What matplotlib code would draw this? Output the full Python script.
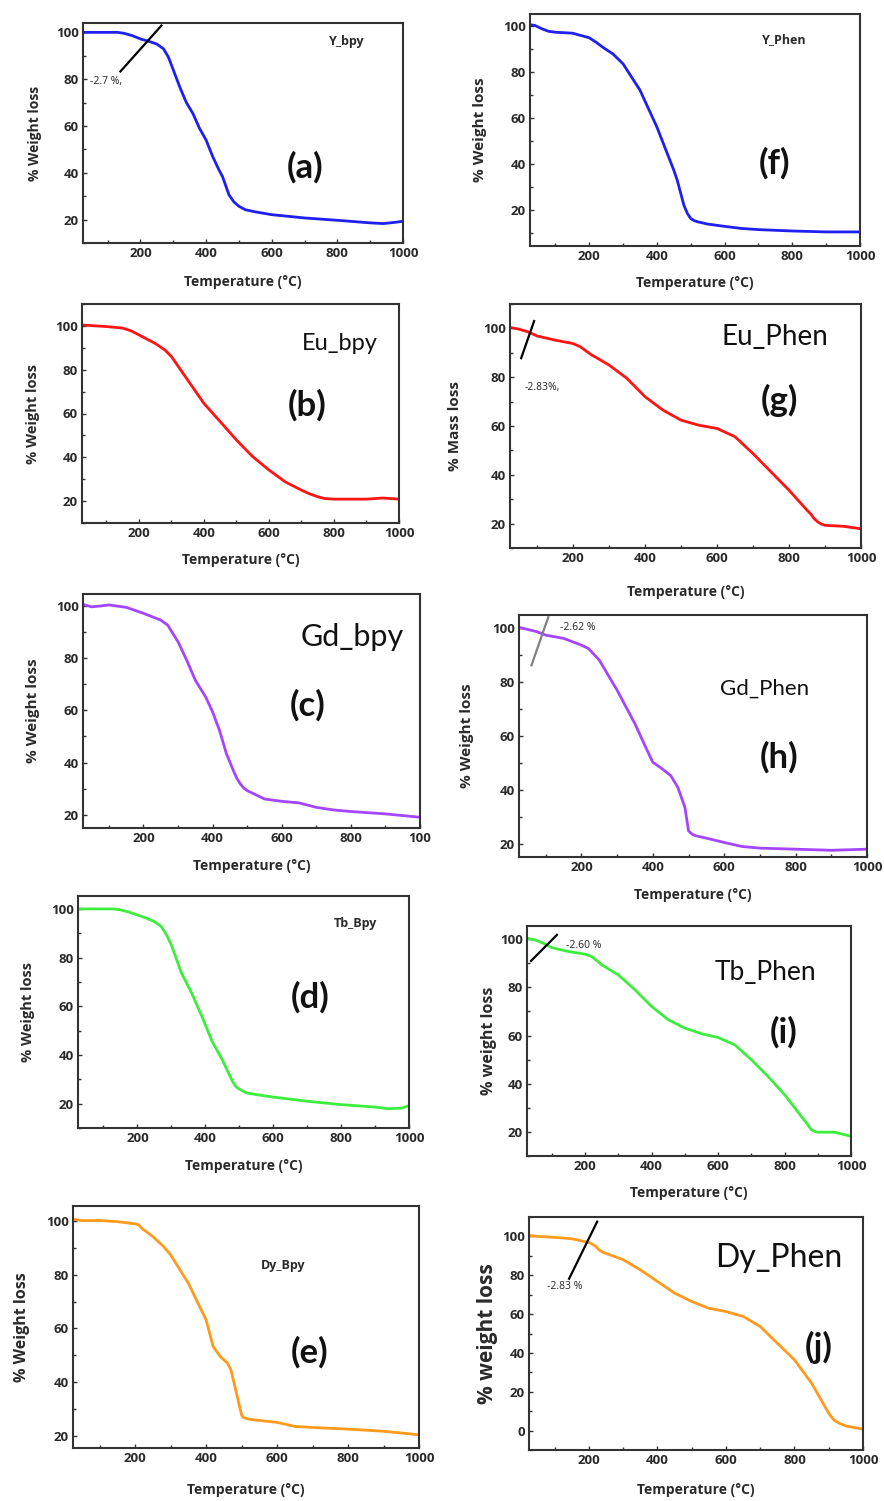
import numpy as np
import matplotlib
matplotlib.use('Agg')
import matplotlib.pyplot as plt
from matplotlib.ticker import MultipleLocator, FixedLocator, FixedFormatter

# ---- data (temperature in C, weight in %) ----
t_y_bpy = [25, 130, 150, 175, 200, 225, 250, 270, 285, 300, 320, 340, 360, 380, 400, 420, 440, 450, 470, 485, 500, 520, 550, 600, 700, 800, 900, 940, 980, 1000]
w_y_bpy = [100, 100, 99.6, 98.6, 97.2, 96.2, 95, 93, 89.5, 84, 76.6, 70, 65.3, 59, 54, 47, 41, 38.4, 30.5, 27.5, 25.7, 24.2, 23.3, 22.1, 20.7, 19.7, 18.6, 18.3, 18.9, 19.3]

t_y_phen = [25, 40, 60, 80, 100, 150, 200, 220, 240, 270, 300, 350, 400, 450, 460, 480, 490, 500, 510, 520, 550, 600, 650, 700, 800, 900, 1000]
w_y_phen = [100.4, 100, 98.6, 97.5, 97.1, 96.7, 94.7, 92.8, 90.6, 87.7, 83.4, 72, 56, 37.3, 33, 22, 18.6, 16.4, 15.5, 15, 14, 13, 12.1, 11.6, 11, 10.6, 10.6]

t_eu_bpy = [25, 100, 150, 175, 200, 250, 280, 300, 350, 400, 450, 500, 550, 600, 650, 700, 725, 750, 770, 800, 900, 950, 1000]
w_eu_bpy = [100.4, 99.7, 99, 97.8, 95.9, 92, 89, 86, 75.3, 64.6, 56.3, 47.9, 40.3, 34.2, 28.8, 25, 23.3, 22, 21.2, 20.9, 20.9, 21.4, 20.9]

t_eu_phen = [25, 50, 75, 100, 150, 200, 220, 250, 300, 350, 400, 450, 500, 550, 600, 650, 700, 750, 800, 850, 860, 870, 880, 890, 900, 950, 1000]
w_eu_phen = [100.4, 99.7, 98.6, 96.9, 95.2, 93.8, 92.5, 89.3, 85, 79.5, 72, 66.5, 62.4, 60.3, 59, 55.6, 48.7, 41.2, 33.7, 25.5, 24, 22, 20.7, 19.8, 19.3, 18.9, 17.9]

t_gd_bpy = [25, 50, 75, 100, 150, 200, 250, 270, 300, 325, 350, 380, 400, 420, 440, 460, 470, 480, 490, 500, 550, 600, 650, 700, 750, 800, 900, 1000]
w_gd_bpy = [100.5, 99.6, 99.9, 100.3, 99.4, 97.1, 94.5, 92.6, 86.2, 79.2, 71.5, 65.1, 59.4, 52.3, 43.4, 37, 34, 31.9, 30.3, 29.3, 26.1, 25.2, 24.6, 22.9, 21.9, 21.3, 20.4, 19.1]

t_gd_phen = [25, 50, 75, 100, 150, 200, 220, 250, 300, 350, 380, 400, 420, 450, 470, 490, 495, 500, 510, 520, 550, 600, 650, 700, 800, 900, 1000]
w_gd_phen = [100.4, 99.6, 98.8, 97.5, 96.3, 93.8, 92.5, 88.2, 77, 64.5, 55.8, 50.2, 48.4, 45.3, 40.9, 33.4, 29, 24.7, 23.5, 22.9, 22, 20.4, 18.9, 18.3, 17.9, 17.5, 17.9]

t_tb_bpy = [25, 130, 150, 175, 200, 225, 250, 270, 285, 300, 330, 360, 390, 420, 450, 480, 490, 500, 520, 550, 600, 700, 800, 900, 940, 980, 1000]
w_tb_bpy = [100, 100, 99.6, 98.7, 97.5, 96.3, 94.8, 92.8, 89.5, 85.2, 73.6, 65.4, 55.8, 45.6, 38, 29.2, 27, 26, 24.5, 23.7, 22.7, 21, 19.6, 18.6, 17.9, 18.2, 19.2]

t_tb_phen = [25, 50, 75, 100, 150, 200, 220, 250, 300, 350, 400, 450, 500, 550, 600, 650, 700, 750, 800, 850, 870, 880, 890, 900, 950, 1000]
w_tb_phen = [100.4, 99.7, 98.3, 96.5, 94.9, 93.8, 92.8, 89.4, 85.2, 79, 72.1, 66.6, 63.1, 60.8, 59.2, 56.2, 50, 43.1, 35.5, 26.5, 23, 21, 20.2, 19.9, 19.9, 18.2]

t_dy_bpy = [25, 50, 100, 150, 200, 210, 220, 250, 280, 300, 350, 400, 420, 440, 460, 470, 490, 500, 505, 520, 550, 600, 650, 700, 800, 900, 1000]
w_dy_bpy = [100.5, 100, 100, 99.6, 98.8, 98.4, 97, 94.1, 90.4, 87.3, 76.8, 63.2, 53.3, 49.6, 47.2, 44.7, 33.6, 28, 27, 26.4, 25.9, 25.2, 23.7, 23.3, 22.7, 21.9, 20.6]

t_dy_phen = [25, 50, 100, 150, 200, 210, 220, 230, 240, 300, 350, 400, 450, 500, 550, 600, 650, 700, 750, 800, 850, 900, 915, 930, 950, 1000]
w_dy_phen = [100.5, 100, 99.5, 98.8, 96.9, 96, 94.8, 93, 91.9, 88, 82.8, 76.8, 70.8, 66.5, 63, 61.3, 58.8, 53.6, 45, 36.4, 24.4, 8.9, 5.5, 3.8, 2.4, 0.7]

names = ['Y_bpy', 'Eu_bpy', 'Gd_bpy', 'Tb_Bpy', 'Dy_Bpy', 'Y_Phen', 'Eu_Phen', 'Gd_Phen', 'Tb_Phen', 'Dy_Phen']
letters = ['(a)', '(b)', '(c)', '(d)', '(e)', '(f)', '(g)', '(h)', '(i)', '(j)']
ylabels = ['% Weight loss'] * 5 + ['% Weight loss', '% Mass loss', '% Weight loss', '% weight loss', '% weight loss']
temps = [t_y_bpy, t_eu_bpy, t_gd_bpy, t_tb_bpy, t_dy_bpy, t_y_phen, t_eu_phen, t_gd_phen, t_tb_phen, t_dy_phen]
weights = [w_y_bpy, w_eu_bpy, w_gd_bpy, w_tb_bpy, w_dy_bpy, w_y_phen, w_eu_phen, w_gd_phen, w_tb_phen, w_dy_phen]

BLUE, RED, PURPLE, GREEN, ORANGE = '#1f1fef', '#ff1414', '#a446ff', '#3ded3d', '#ff9a1e'
colors = [BLUE, RED, PURPLE, GREEN, ORANGE] * 2

W, H = 884, 1501
fig = plt.figure(figsize=(W / 100, H / 100), dpi=100)
fig.patch.set_facecolor('white')

# layout per panel: axes box in px (l, t, r, b), ylim, ylabel x px, ylabel size,
# xlabel y px, name centre px, name size, name style, letter centre px
panels = [
    dict(box=(83, 23, 403, 243), ylim=(10, 104), ylx=35, yls=10, xly=282,
         npos=(347, 42), nsize=9, big=False, lpos=(305, 167)),
    dict(box=(82, 304, 399, 523), ylim=(10, 110), ylx=33, yls=10.5, xly=560,
         npos=(340, 343), nsize=17, big=True, lpos=(307, 405)),
    dict(box=(83, 594, 420, 828), ylim=(15, 104.5), ylx=33, yls=11, xly=866,
         npos=(352, 637), nsize=22, big=True, lpos=(308, 705)),
    dict(box=(78, 896, 409, 1128), ylim=(10, 105.3), ylx=28, yls=10.5, xly=1166,
         npos=(355, 923), nsize=9, big=False, lpos=(310, 997)),
    dict(box=(73, 1206, 419, 1448), ylim=(15.7, 105.4), ylx=22, yls=11.5, xly=1490,
         npos=(283, 1265), nsize=9, big=False, lpos=(310, 1352)),
    dict(box=(530, 14, 860, 246), ylim=(4.5, 105), ylx=480, yls=11, xly=283,
         npos=(784, 40), nsize=9, big=False, lpos=(775, 163)),
    dict(box=(510, 304, 861, 548), ylim=(10, 110), ylx=455, yls=11, xly=592,
         npos=(775, 337), nsize=20, big=True, lpos=(779, 400)),
    dict(box=(519, 615, 867, 857), ylim=(15, 105), ylx=467, yls=11, xly=895,
         npos=(765, 689), nsize=16, big=True, lpos=(779, 757)),
    dict(box=(527, 926, 851, 1156), ylim=(10, 105.5), ylx=489, yls=11.5, xly=1193,
         npos=(765, 972), nsize=19, big=True, lpos=(784, 1032)),
    dict(box=(529, 1217, 863, 1450), ylim=(-10, 110), ylx=487, yls=15, xly=1490,
         npos=(779, 1258), nsize=23, big=True, lpos=(819, 1347)),
]

# weight-loss annotations: (panel index, line start, line end, text pos, text, colour)
notes = [
    (0, (139, 83.3), (264, 102.9), (95, 79), '-2.7 %,', 'black'),
    (6, (56, 87.8), (92, 103), (115, 75.9), '-2.83%,', 'black'),
    (7, (60, 86.3), (107, 104.2), (191, 100.5), '-2.62 %', 'grey'),
    (8, (37, 91), (115, 101.8), (196, 97.6), '-2.60 %', 'black'),
    (9, (142, 78.2), (224, 107.6), (128, 74), '-2.83 %', 'black'),
]

TICK_FONT = 'Open Sans'
BIG_FONT = 'Lato'
axes = []
for i, p in enumerate(panels):
    l, t, r, b = p['box']
    ax = fig.add_axes([l / W, 1 - b / H, (r - l) / W, (b - t) / H])
    axes.append(ax)
    ax.plot(temps[i], weights[i], color=colors[i], lw=2.0, solid_joinstyle='round')
    ax.set_xlim(25, 1000)
    ax.set_ylim(*p['ylim'])
    ax.xaxis.set_major_locator(FixedLocator([200, 400, 600, 800, 1000]))
    if i == 2:
        ax.xaxis.set_major_formatter(FixedFormatter(['200', '400', '600', '800', '100']))
    ax.xaxis.set_minor_locator(MultipleLocator(100))
    ax.yaxis.set_major_locator(MultipleLocator(20))
    ax.yaxis.set_minor_locator(MultipleLocator(10))
    ax.tick_params(which='both', direction='in', color='#333333', width=1.0)
    ax.tick_params(which='major', length=3)
    ax.tick_params(which='minor', length=2)
    ax.tick_params(labelsize=9.5, labelcolor='#2a2a2a', pad=3)
    for lab in ax.get_xticklabels() + ax.get_yticklabels():
        lab.set_fontfamily(TICK_FONT)
        lab.set_fontweight('bold')
    for s in ax.spines.values():
        s.set_color('#333333')
        s.set_linewidth(1.5)
    ax.set_ylabel(ylabels[i], fontsize=p['yls'], fontweight='bold', family=TICK_FONT, color='#2a2a2a')
    ax.yaxis.set_label_coords((p['ylx'] - l) / (r - l), 0.5)
    ax.set_xlabel('Temperature (°C)', fontsize=10, fontweight='bold', family=TICK_FONT, color='#2a2a2a')
    ax.xaxis.set_label_coords(0.5, -(p['xly'] - b) / (b - t), transform=ax.transAxes)
    ax.xaxis.label.set_va('center')
    ax.yaxis.label.set_va('center')

    nx, ny = p['npos']
    if p['big']:
        fig.text(nx / W, 1 - ny / H, names[i], fontsize=p['nsize'], family=BIG_FONT,
                 ha='center', va='center', color='#111111')
    else:
        fig.text(nx / W, 1 - ny / H, names[i], fontsize=p['nsize'], family=TICK_FONT,
                 fontweight='bold', ha='center', va='center', color='#2a2a2a')
    lx, ly = p['lpos']
    fig.text(lx / W, 1 - ly / H, letters[i], fontsize=25, family=BIG_FONT, fontweight='bold',
             ha='center', va='center', color='#111111')

for k, p0, p1, pt, txt, c in notes:
    ax = axes[k]
    ax.plot([p0[0], p1[0]], [p0[1], p1[1]], color=c, lw=1.6, clip_on=False)
    ax.text(pt[0], pt[1], txt, fontsize=7.5, family=TICK_FONT, ha='center', va='center', color='#222222')

fig.savefig('out.png', dpi=100)
